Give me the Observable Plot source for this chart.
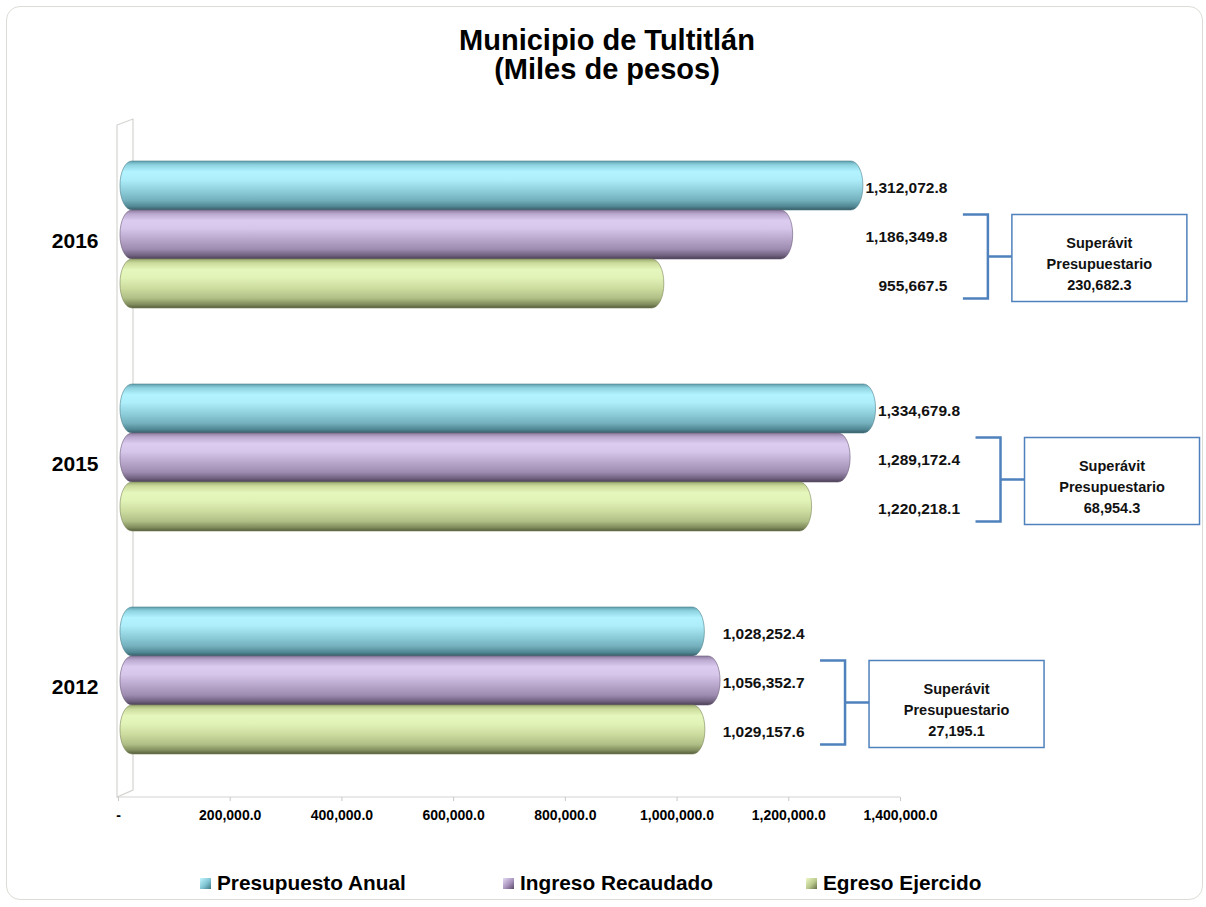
<!DOCTYPE html>
<html><head><meta charset="utf-8">
<script src="https://cdn.jsdelivr.net/npm/d3@7"></script>
<script src="https://cdn.jsdelivr.net/npm/@observablehq/plot@0.6"></script>
<style>
html,body{margin:0;padding:0;background:#fff;}
#wrap{position:relative;width:1206px;height:907px;font-family:"Liberation Sans",Arial,sans-serif;overflow:hidden;background:#fff;}
#frame{position:absolute;left:6px;top:6px;width:1197px;height:894px;border:1.5px solid #dcdcd6;border-radius:14px;box-sizing:border-box;}
#title{position:absolute;left:7px;width:1200px;top:26px;text-align:center;font-weight:bold;font-size:29px;line-height:29px;color:#000;}
#chart{position:absolute;left:0;top:100px;}
.leg{position:absolute;top:871px;font-weight:bold;font-size:20.8px;line-height:24px;color:#000;white-space:nowrap;display:flex;align-items:center;gap:6px;}
.sw{display:inline-block;width:11px;height:11px;}
#chart g[aria-label="y-axis tick label"]{font-size:21px;font-weight:bold;fill:#000;}
#chart g[aria-label="x-axis tick label"]{font-size:14px;font-weight:bold;fill:#000;}
#chart g[aria-label="x-axis tick"]{color:#c8c8c8;}
</style></head>
<body>
<div id="wrap">
  <div id="frame"></div>
  <div id="title"></div>
  <div id="chart"></div>
  <div id="legend"></div>
</div>
<script>
// ---------- data ----------
const titleLines = ["Municipio de Tultitlán", "(Miles de pesos)"];
const years = ["2016", "2015", "2012"];
const seriesNames = ["Presupuesto Anual", "Ingreso Recaudado", "Egreso Ejercido"];
const presupuesto = [1312072.8, 1334679.8, 1028252.4];
const ingreso = [1186349.8, 1289172.4, 1056352.7];
const egreso = [955667.5, 1220218.1, 1029157.6];
const superavit = [230682.3, 68954.3, 27195.1];
const boxLabel = ["Superávit", "Presupuestario"];
const xTicks = [0, 200000, 400000, 600000, 800000, 1000000, 1200000, 1400000];

// ---------- styles ----------
const gradStops = [
  [["0","#5e9fae"],[".08","#8fd3e0"],[".22","#b2f3ff"],[".38","#aeeefa"],[".6","#8fcfdc"],[".8","#74b0bd"],[".93","#4f8692"],["1","#365b64"]],
  [["0","#8c7a9e"],[".08","#bba8cf"],[".22","#dccdf0"],[".38","#d6c6ea"],[".6","#b8a6cb"],[".8","#9d8bb0"],[".93","#6f607e"],["1","#4a3f55"]],
  [["0","#9cab70"],[".08","#cbdb9c"],[".22","#e6f7bd"],[".38","#e2f3b8"],[".6","#ccdc9f"],[".8","#b0bf86"],[".93","#7f8b5c"],["1","#545c3c"]]
];
const edgeColors = ["#4d7f8b", "#6a5b78", "#7a8558"];
const swatchCss = [
  "linear-gradient(135deg,#c4f7ff 0%,#7fc3d2 55%,#3f7884 100%)",
  "linear-gradient(135deg,#e6dcf5 0%,#a893bd 55%,#5a4b68 100%)",
  "linear-gradient(135deg,#eefac8 0%,#b9c98c 55%,#667048 100%)"
];
const legendLeft = [200, 503, 806];

const W = 1206, H = 737, MT = 23, MB = 40, ML = 118, MR = 306;
const STEP = 223, BAR = 49, GROUP_TOP = (STEP - 3 * BAR) / 2;

const fmt = d3.format(",.1f");
const tickFmt = d => d === 0 ? "-" : fmt(d);
const seriesValues = [presupuesto, ingreso, egreso];
const rows = years.map((year, i) => ({year, i, max: d3.max(seriesValues, s => s[i]), sup: superavit[i]}));

// title
document.getElementById("title").innerHTML = titleLines.join("<br>");

// legend
const leg = d3.select("#legend");
seriesNames.forEach((name, k) => {
  const it = leg.append("div").attr("class", "leg").style("left", legendLeft[k] + "px");
  it.append("span").attr("class", "sw").style("background", swatchCss[k]);
  it.append("span").text(name);
});

// ---------- plot ----------
const marks = [];
seriesValues.forEach((vals, k) => {
  marks.push(Plot.barX(rows, {
    y: "year", x: d => vals[d.i],
    insetTop: GROUP_TOP + BAR * k, insetBottom: STEP - GROUP_TOP - BAR * (k + 1),
    insetLeft: 2, insetRight: -12, rx: 12, ry: 24,
    fill: `url(#cyl${k})`, stroke: edgeColors[k], strokeWidth: 0.6
  }));
});
seriesValues.forEach((vals, k) => {
  marks.push(Plot.text(rows, {
    y: "year", x: "max", text: d => fmt(vals[d.i]),
    dx: 96, dy: (k - 1) * BAR + 2, textAnchor: "end",
    fontSize: 15.5, fontWeight: "bold", fill: "#111"
  }));
});

const chart = Plot.plot({
  width: W, height: H,
  marginTop: MT, marginBottom: MB, marginLeft: ML, marginRight: MR,
  style: {fontFamily: "'Liberation Sans', Arial, sans-serif", background: "transparent", overflow: "visible"},
  x: {domain: [0, 1400000], ticks: xTicks, tickFormat: tickFmt, tickSize: 4, tickPadding: 9, label: null},
  y: {domain: years, padding: 0, insetBottom: 5, tickSize: 0, tickPadding: 20, label: null},
  marks
});
document.getElementById("chart").appendChild(chart);

// ---------- decorations through the plot's scales ----------
const svg = d3.select(chart);
const defs = svg.insert("defs", ":first-child");
gradStops.forEach((stops, k) => {
  const g = defs.append("linearGradient").attr("id", `cyl${k}`)
    .attr("x1", 0).attr("y1", 0).attr("x2", 0).attr("y2", 1);
  stops.forEach(([o, c]) => g.append("stop").attr("offset", o).attr("stop-color", c));
});

const xs = chart.scale("x"), ys = chart.scale("y");
const X = v => xs.apply(v);
const bw = ys.bandwidth;
const center = yr => ys.apply(yr) + bw / 2;
const plotBottom = H - MB;
const x0 = X(0);
const topY = ys.range[0];

const back = svg.insert("g", "g").attr("fill", "none").attr("stroke", "#d4d4d0").attr("stroke-width", 1.2);
back.append("path").attr("d",
  `M${x0 - 1},${topY + 2} L${x0 + 15},${topY - 4} L${x0 + 15},${plotBottom - 7} L${x0 - 1},${plotBottom} Z`);
back.append("path").attr("d", `M${x0 - 1},${plotBottom} H${X(xTicks[xTicks.length - 1])}`);

// year labels slightly lower
svg.selectAll('g[aria-label="y-axis tick label"]').each(function() {
  const t = this.getAttribute("transform") || "";
  this.setAttribute("transform", t + " translate(0,6)");
});

const ann = svg.append("g");
rows.forEach(r => {
  const c = center(r.year);
  const xv = X(r.max) + 137;
  ann.append("path")
    .attr("d", `M${xv - 25},${c - 20} H${xv} V${c + 64} H${xv - 25} M${xv},${c + 22} H${xv + 24}`)
    .attr("fill", "none").attr("stroke", "#4f81bd").attr("stroke-width", 2.5);
  const bx = xv + 24, bwid = 175;
  ann.append("rect").attr("x", bx).attr("y", c - 20).attr("width", bwid).attr("height", 87)
    .attr("fill", "#fff").attr("stroke", "#4f81bd").attr("stroke-width", 1.5);
  const lines = [...boxLabel, fmt(r.sup)];
  const offs = [13, 34.5, 55.5];
  lines.forEach((t, j) => {
    ann.append("text").attr("x", bx + bwid / 2).attr("y", c + offs[j])
      .attr("text-anchor", "middle").attr("font-size", 14.5).attr("font-weight", "bold")
      .attr("fill", "#111").text(t);
  });
});
</script>
</body></html>
